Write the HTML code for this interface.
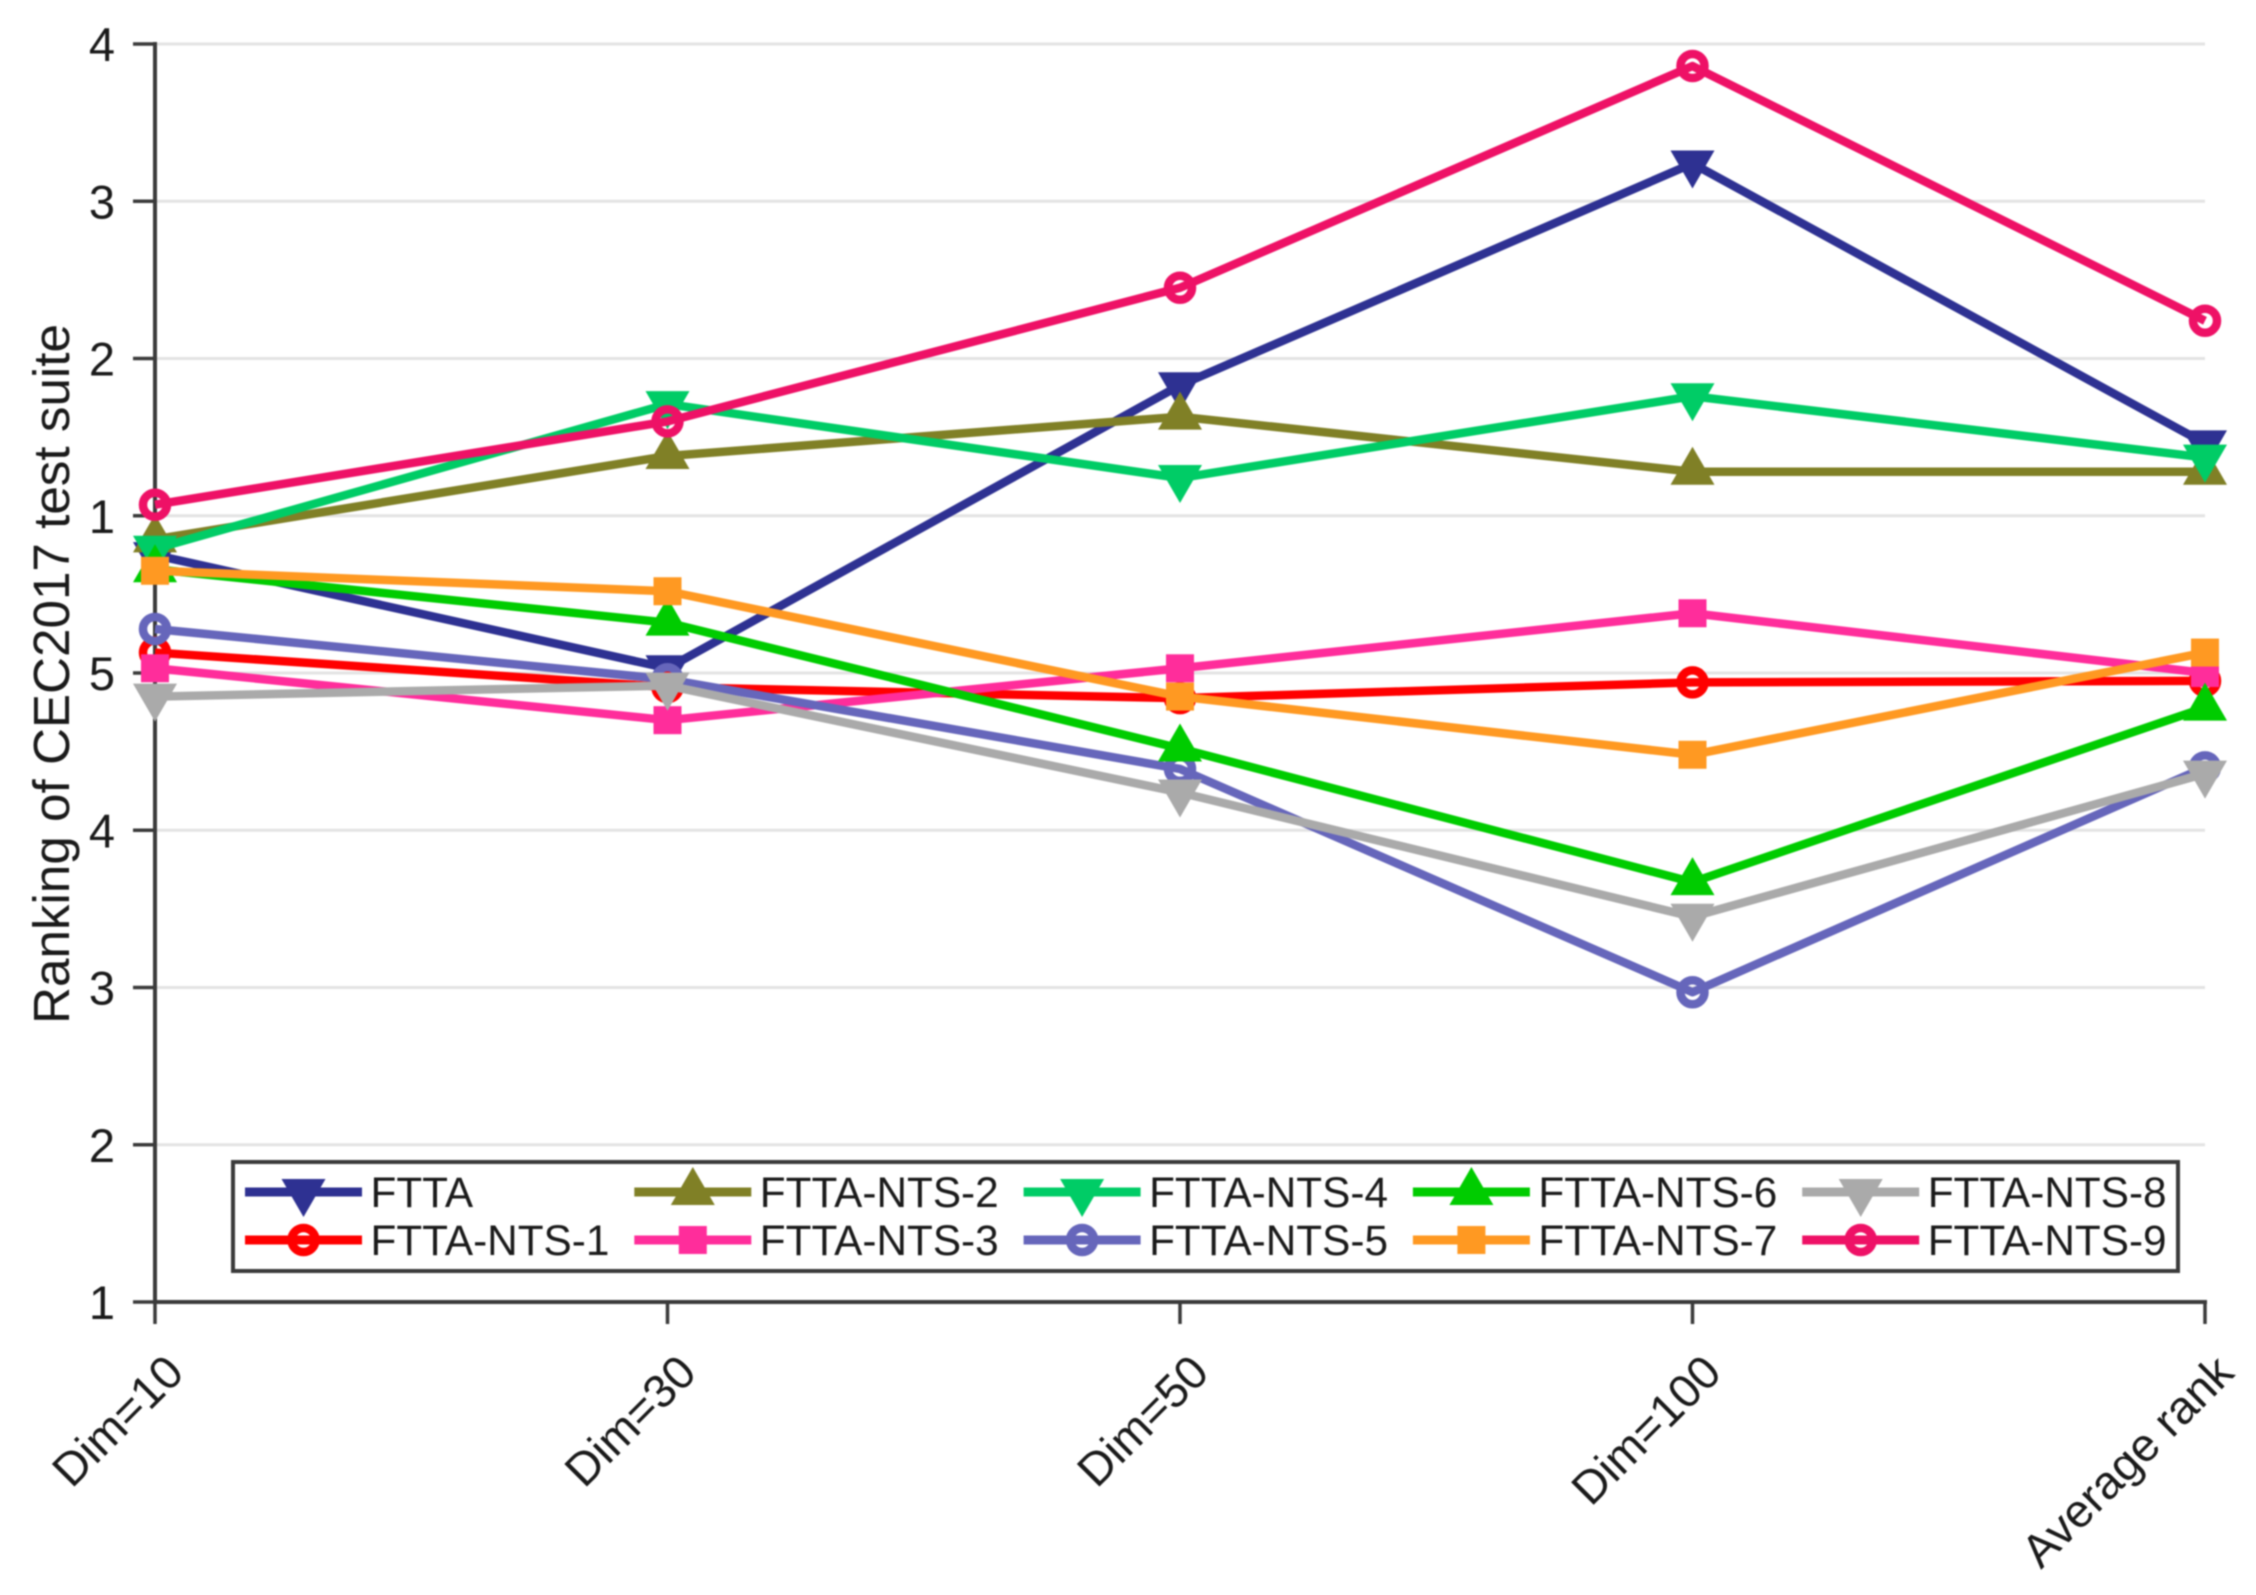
<!DOCTYPE html>
<html lang="en">
<head>
<meta charset="utf-8">
<title>Ranking of CEC2017 test suite</title>
<style>
  html, body { margin: 0; padding: 0; background: #fff; }
  svg { display: block; filter: blur(0.7px); }
  text { font-family: "Liberation Sans", Arial, sans-serif; fill: #1a1a1a; }
</style>
</head>
<body>
<svg id="chart" xmlns="http://www.w3.org/2000/svg" width="2256" height="1595" viewBox="0 0 2256 1595">
  <rect x="0" y="0" width="2256" height="1595" fill="#ffffff"/>
  <text transform="translate(69 674) rotate(-90)" text-anchor="middle" font-size="51.2">Ranking of CEC2017 test suite</text>
</svg>
<script>
const categories = ['Dim=10', 'Dim=30', 'Dim=50', 'Dim=100', 'Average rank'];
const yTickValues = [1, 2, 3, 4, 5, 6, 7, 8, 9];
const yTickText = ['1', '2', '3', '4', '5', '1', '2', '3', '4'];

const seriesNames = ['FTTA', 'FTTA-NTS-1', 'FTTA-NTS-2', 'FTTA-NTS-3', 'FTTA-NTS-4', 'FTTA-NTS-5', 'FTTA-NTS-6', 'FTTA-NTS-7', 'FTTA-NTS-8', 'FTTA-NTS-9'];
const seriesColors = ['#2E3192', '#FF0000', '#808026', '#FF2D9B', '#00CC66', '#6666BB', '#00CC00', '#FF9922', '#AAAAAA', '#EE1166'];
const seriesMarkers = ['down', 'circle', 'up', 'square', 'down', 'circle', 'up', 'square', 'down', 'circle'];

const valuesFTTA = [5.75, 5.03, 6.83, 8.24, 6.46];
const valuesNTS1 = [5.13, 4.91, 4.84, 4.94, 4.95];
const valuesNTS2 = [5.85, 6.38, 6.63, 6.28, 6.28];
const valuesNTS3 = [5.03, 4.70, 5.03, 5.38, 5.00];
const valuesNTS4 = [5.79, 6.71, 6.24, 6.76, 6.37];
const valuesNTS5 = [5.28, 4.96, 4.39, 2.97, 4.40];
const valuesNTS6 = [5.66, 5.32, 4.52, 3.67, 4.78];
const valuesNTS7 = [5.65, 5.52, 4.85, 4.48, 5.13];
const valuesNTS8 = [4.85, 4.92, 4.24, 3.45, 4.36];
const valuesNTS9 = [6.07, 6.60, 7.45, 8.86, 7.24];

const seriesValues = [valuesFTTA, valuesNTS1, valuesNTS2, valuesNTS3, valuesNTS4, valuesNTS5, valuesNTS6, valuesNTS7, valuesNTS8, valuesNTS9];

const NS = 'http://www.w3.org/2000/svg';
const svg = document.getElementById('chart');
const plot = { left: 155, right: 2205, top: 44, bottom: 1302 };
const yMin = 1, yMax = 9;

function xScale(i) {
  return plot.left + (plot.right - plot.left) * i / (categories.length - 1);
}
function yScale(v) {
  return plot.bottom - (plot.bottom - plot.top) * (v - yMin) / (yMax - yMin);
}
function make(tag, attrs, parent) {
  const el = document.createElementNS(NS, tag);
  for (const k in attrs) el.setAttribute(k, attrs[k]);
  (parent || svg).appendChild(el);
  return el;
}
function drawMarker(shape, x, y, color, parent) {
  let el;
  if (shape === 'circle') {
    el = make('circle', { cx: x, cy: y, r: 12, fill: 'none', stroke: color, 'stroke-width': 8.5 }, parent);
  } else if (shape === 'square') {
    el = make('rect', { x: x - 14, y: y - 14, width: 28, height: 28, fill: color }, parent);
  } else if (shape === 'down') {
    el = make('polygon', { points: (x - 22) + ',' + (y - 13) + ' ' + (x + 22) + ',' + (y - 13) + ' ' + x + ',' + (y + 25), fill: color }, parent);
  } else {
    el = make('polygon', { points: (x - 22) + ',' + (y + 13) + ' ' + (x + 22) + ',' + (y + 13) + ' ' + x + ',' + (y - 25), fill: color }, parent);
  }
  return el;
}

/* gridlines */
yTickValues.forEach(function (v) {
  if (v === yMin) return;
  const g = make('line', { x1: plot.left, x2: plot.right, y1: yScale(v), y2: yScale(v), stroke: '#E3E3E3', 'stroke-width': 3 });
  
  
});

/* axes */
const yAxis = make('line', { x1: plot.left, x2: plot.left, y1: plot.top - 2, y2: plot.bottom + 2, stroke: '#3a3a3a', 'stroke-width': 4 });


const xAxis = make('line', { x1: plot.left, x2: plot.right + 2, y1: plot.bottom, y2: plot.bottom, stroke: '#3a3a3a', 'stroke-width': 4 });



yTickValues.forEach(function (v, i) {
  const t = make('line', { x1: plot.left - 22, x2: plot.left, y1: yScale(v), y2: yScale(v), stroke: '#3a3a3a', 'stroke-width': 3.5 });
  
  
  const l = make('text', { x: 115, y: yScale(v) + 17, 'text-anchor': 'end', 'font-size': 47 });
  
  
  l.textContent = yTickText[i];
});

categories.forEach(function (c, i) {
  const x = xScale(i);
  const t = make('line', { x1: x, x2: x, y1: plot.bottom, y2: plot.bottom + 22, stroke: '#3a3a3a', 'stroke-width': 3.5 });
  
  
  const l = make('text', { transform: 'translate(' + (x + 31) + ' ' + (plot.bottom + 73) + ') rotate(-45)', 'text-anchor': 'end', 'font-size': 46.5 });
  
  
  l.textContent = c;
});

/* series */
seriesValues.forEach(function (vals, s) {
  const g = make('g', {});
  
  
  const pts = vals.map(function (v, i) { return xScale(i) + ',' + yScale(v); }).join(' ');
  const line = make('polyline', { points: pts, fill: 'none', stroke: seriesColors[s], 'stroke-width': 8.5, 'stroke-linejoin': 'round' }, g);
  
  
  vals.forEach(function (v, i) {
    const m = drawMarker(seriesMarkers[s], xScale(i), yScale(v), seriesColors[s], g);
    
    
  });
});

/* legend */
const legend = make('g', {});


const legendBox = make('rect', { x: 233, y: 1162, width: 1945, height: 109, fill: '#ffffff', stroke: '#3a3a3a', 'stroke-width': 4 }, legend);


seriesNames.forEach(function (name, s) {
  const col = Math.floor(s / 2);
  const row = s % 2;
  const lx = 245 + col * 389.3;
  const ly = row === 0 ? 1192 : 1240;
  const entry = make('g', {}, legend);
  
  
  make('line', { x1: lx, x2: lx + 117, y1: ly, y2: ly, stroke: seriesColors[s], 'stroke-width': 9 }, entry);
  drawMarker(seriesMarkers[s], lx + 58.5, ly, seriesColors[s], entry);
  const t = make('text', { x: lx + 125.5, y: ly + 15, 'font-size': 42.3 }, entry);
  t.textContent = name;
});
</script>
</body>
</html>
